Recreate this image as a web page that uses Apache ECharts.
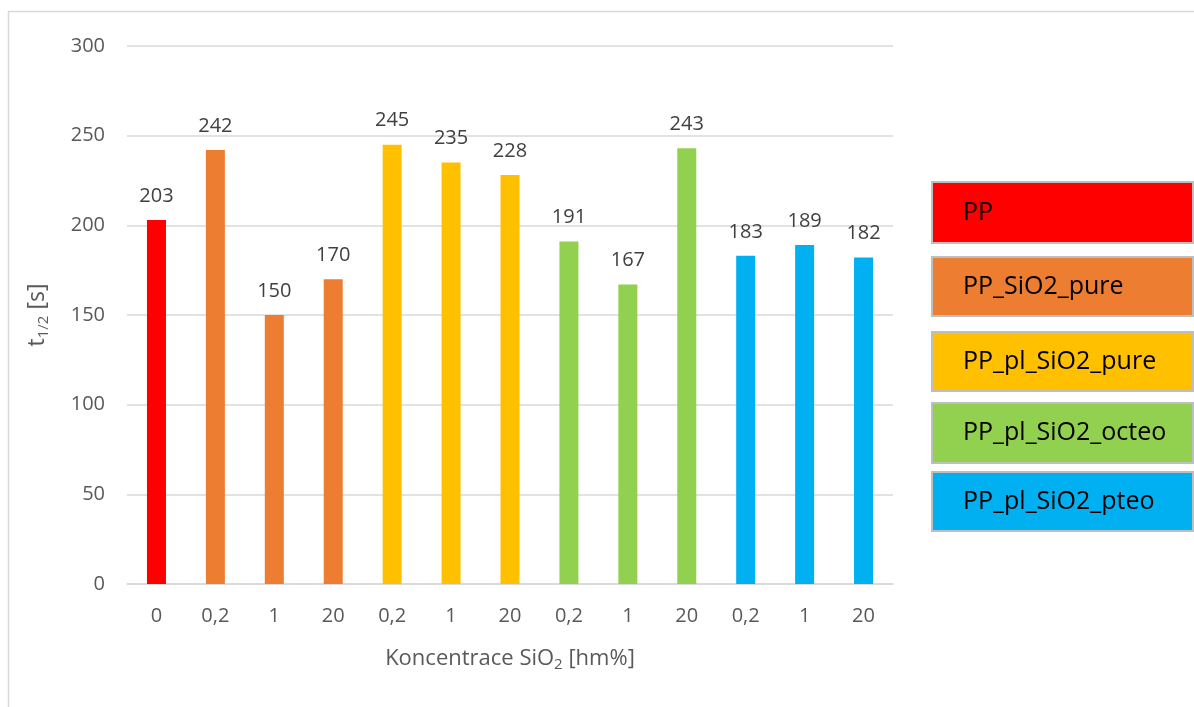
<!DOCTYPE html>
<html>
<head>
<meta charset="utf-8">
<script src="https://cdn.jsdelivr.net/npm/echarts@6/dist/echarts.min.js"></script>
<style>
  html, body { margin: 0; padding: 0; background: #fff; }
  #chart { width: 1194px; height: 707px; }
</style>
</head>
<body>
<div id="chart"></div>
<script>
// Concentration labels along the x axis
const categories = ['0', '0,2', '1', '20', '0,2', '1', '20', '0,2', '1', '20', '0,2', '1', '20'];
// Half-time t1/2 [s] for each sample
const halfTimes = [203, 242, 150, 170, 245, 235, 228, 191, 167, 243, 183, 189, 182];
// Sample group of each bar (index into groupNames)
const barGroup = [0, 1, 1, 1, 2, 2, 2, 3, 3, 3, 4, 4, 4];
const groupNames = ['PP', 'PP_SiO2_pure', 'PP_pl_SiO2_pure', 'PP_pl_SiO2_octeo', 'PP_pl_SiO2_pteo'];
const groupColors = ['#FF0000', '#ED7D31', '#FFC000', '#92D050', '#00B0F0'];
const yTicks = [0, 50, 100, 150, 200, 250, 300];

const FONT = '"Open Sans", "Liberation Sans", sans-serif';
const chart = echarts.init(document.getElementById('chart'), null, { renderer: 'canvas' });

// Legend drawn as framed colour boxes on the right
const legendBoxes = [
  { y: 181, h: 61 }, { y: 256, h: 59 }, { y: 331, h: 59 }, { y: 402, h: 60 }, { y: 471, h: 59 }
];
const graphics = [
  {
    type: 'rect', silent: true, z: -1,
    shape: { x: 8.5, y: 11.5, width: 1300, height: 800 },
    style: { fill: 'none', stroke: '#D9D9D9', lineWidth: 1.5 }
  }
];
groupNames.forEach((name, i) => {
  const b = legendBoxes[i];
  graphics.push({
    type: 'group', left: 931, top: b.y,
    children: [
      {
        type: 'rect',
        shape: { x: 0, y: 0, width: 261, height: b.h },
        style: { fill: groupColors[i], stroke: '#BFBFBF', lineWidth: 2 }
      },
      {
        type: 'text', x: 31, y: b.h / 2,
        style: { text: name, fill: '#000', font: '25px ' + FONT, verticalAlign: 'middle' }
      }
    ]
  });
});

chart.setOption({
  animation: false,
  backgroundColor: '#fff',
  grid: { left: 127, right: 301, top: 46, bottom: 123 },
  xAxis: {
    type: 'category',
    data: categories,
    axisTick: { show: false },
    axisLine: { lineStyle: { color: '#D9D9D9', width: 1.5 } },
    axisLabel: { color: '#595959', fontSize: 20, fontFamily: FONT, margin: 22 },
    name: '{t|Koncentrace SiO}{s|2}{t| [hm%]}',
    nameLocation: 'middle',
    nameGap: 61,
    nameTextStyle: {
      rich: {
        t: { color: '#595959', fontSize: 22, fontFamily: FONT },
        s: { color: '#595959', fontSize: 15, fontFamily: FONT, verticalAlign: 'bottom', padding: [12, 0, 0, 0] }
      }
    }
  },
  yAxis: {
    type: 'value',
    min: yTicks[0],
    max: yTicks[yTicks.length - 1],
    interval: yTicks[1] - yTicks[0],
    axisLine: { show: false },
    axisTick: { show: false },
    splitLine: { lineStyle: { color: '#D9D9D9', width: 1.5 } },
    axisLabel: { color: '#595959', fontSize: 20, fontFamily: FONT, margin: 22 },
    name: '{t|t}{s|1/2}{t| [s]}',
    nameLocation: 'middle',
    nameRotate: 90,
    nameGap: 76,
    nameTextStyle: {
      rich: {
        t: { color: '#595959', fontSize: 23, fontFamily: FONT },
        s: { color: '#595959', fontSize: 15, fontFamily: FONT, verticalAlign: 'bottom', padding: [12, 0, 0, 0] }
      }
    }
  },
  series: [{
    type: 'bar',
    barWidth: 19,
    data: halfTimes.map((v, i) => ({ value: v, itemStyle: { color: groupColors[barGroup[i]] } })),
    label: {
      show: true,
      position: 'top',
      distance: 14,
      color: '#404040',
      fontSize: 20,
      fontFamily: FONT
    }
  }],
  graphic: graphics
});
</script>
</body>
</html>
